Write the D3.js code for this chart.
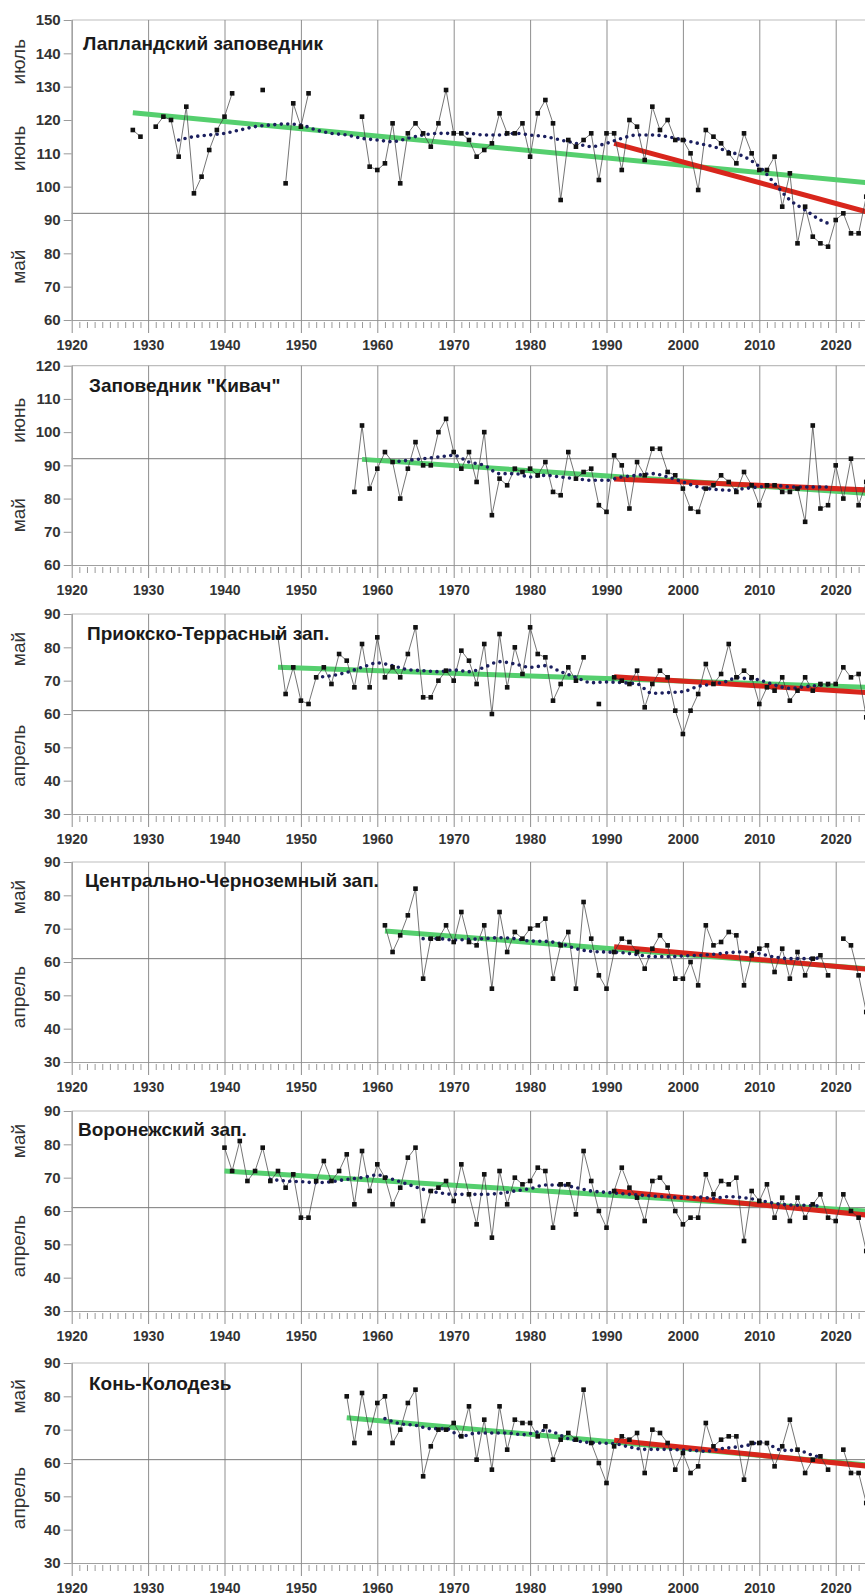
<!DOCTYPE html>
<html lang="ru"><head><meta charset="utf-8">
<script src="https://cdn.jsdelivr.net/npm/d3@7/dist/d3.min.js"></script>
<style>
html,body{margin:0;padding:0;background:#fff;}
svg{display:block;font-family:"Liberation Sans",Arial,Helvetica,sans-serif;}
</style></head><body>
<svg id="chart" width="865" height="1595"></svg>
<script>
// ---------- tick labels ----------
const decadeTicks=[1920,1930,1940,1950,1960,1970,1980,1990,2000,2010,2020];
const yTicksLap=[60,70,80,90,100,110,120,130,140,150];
const yTicksKiv=[60,70,80,90,100,110,120];
const yTicksSouth=[30,40,50,60,70,80,90];

// ---------- Лапландский заповедник ----------
const lapYears=[1928,1929,1930,1931,1932,1933,1934,1935,1936,1937,1938,1939,1940,1941,1942,1945,1946,1948,1949,1950,1951,1952,
1958,1959,1960,1961,1962,1963,1964,1965,1966,1967,1968,1969,1970,1971,1972,1973,1974,1975,1976,1977,1978,1979,1980,1981,1982,1983,1984,1985,1986,1987,1988,1989,1990,1991,1992,1993,1994,1995,1996,1997,1998,1999,2000,2001,2002,2003,2004,2005,2006,2007,2008,2009,2010,2011,2012,2013,2014,2015,2016,2017,2018,2019,2020,2021,2022,2023,2024];
const lapDays=[117,115,null,118,121,120,109,124,98,103,111,117,121,128,null,129,null,101,125,118,128,null,
121,106,105,107,119,101,116,119,116,112,119,129,116,116,114,109,111,113,122,116,116,119,109,122,126,119,96,114,112,114,116,102,116,116,105,120,118,108,124,117,120,114,114,110,99,117,115,113,110,107,116,110,105,105,109,94,104,83,94,85,83,82,90,92,86,86,97];
const lapMaYears=[1934,1936,1938,1940,1942,1944,1946,1948,1950,1952,1954,1956,1958,1960,1962,1964,1966,1968,1970,1972,1974,1976,1978,1980,1982,1984,1986,1988,1990,1992,1994,1996,1998,2000,2002,2004,2006,2008,2010,2012,2014,2016,2018,2019];
const lapMa=[114,115,115.5,116,117,118,118.5,118.8,118.5,117,116,115.5,114.5,114,113.5,114.5,115.5,116,116,116,115.5,115.5,116,115.5,115,114,113,112,113,114.5,115.5,115.5,115,114,113,112,110.5,109,106,101,96,93,90,89];
const lapTrendYears=[1928,2024], lapTrend=[122.2,101.2];
const lapRecentYears=[1991,2024], lapRecent=[113,92.5];
const lapMonths=["июль","июнь","май"];

// ---------- Заповедник "Кивач" ----------
const kivYears=[1957,1958,1959,1960,1961,1962,1963,1964,1965,1966,1967,1968,1969,1970,1971,1972,1973,1974,1975,1976,1977,1978,1979,1980,1981,1982,1983,1984,1985,1986,1987,1988,1989,1990,1991,1992,1993,1994,1995,1996,1997,1998,1999,2000,2001,2002,2003,2004,2005,2006,2007,2008,2009,2010,2011,2012,2013,2014,2015,2016,2017,2018,2019,2020,2021,2022,2023,2024];
const kivDays=[82,102,83,89,94,91,80,89,97,90,90,100,104,94,89,94,85,100,75,86,84,89,88,89,87,91,82,81,94,86,88,89,78,76,93,90,77,91,87,95,95,88,87,83,77,76,83,84,87,85,82,88,84,78,84,84,82,82,83,73,102,77,78,90,80,92,78,85];
const kivMaYears=[1962,1964,1966,1968,1970,1972,1974,1976,1978,1980,1982,1984,1986,1988,1990,1992,1994,1996,1998,2000,2002,2004,2006,2008,2010,2012,2014,2016,2018,2019];
const kivMa=[91,91.5,92,92.5,93,91,90,87.5,87.5,86.5,87,86.5,86,85.5,85.5,86.5,87,87.5,86.5,85,83.5,82.8,82.5,83,83.5,84,83.5,83.5,83.5,83.5];
const kivTrendYears=[1958,2024], kivTrend=[91.8,81.6];
const kivRecentYears=[1991,2024], kivRecent=[85.9,82.6];
const kivMonths=["июнь","май"];

// ---------- Приокско-Террасный зап. ----------
const priYears=[1947,1948,1949,1950,1951,1952,1953,1954,1955,1956,1957,1958,1959,1960,1961,1962,1963,1964,1965,1966,1967,1968,1969,1970,1971,1972,1973,1974,1975,1976,1977,1978,1979,1980,1981,1982,1983,1984,1985,1986,1987,1988,1989,1990,1991,1992,1993,1994,1995,1996,1997,1998,1999,2000,2001,2002,2003,2004,2005,2006,2007,2008,2009,2010,2011,2012,2013,2014,2015,2016,2017,2018,2019,2020,2021,2022,2023,2024];
const priDays=[83,66,74,64,63,71,74,69,78,76,68,81,68,83,71,74,71,78,86,65,65,70,73,70,79,76,69,81,60,84,68,80,72,86,78,77,64,69,74,70,77,null,63,null,71,70,69,73,62,69,73,71,61,54,61,66,75,69,72,81,71,73,71,63,68,67,71,64,67,71,67,69,69,69,74,71,72,59];
const priMaYears=[1952,1954,1956,1958,1960,1962,1964,1966,1968,1970,1972,1974,1976,1978,1980,1982,1984,1986,1988,1990,1992,1994,1996,1998,2000,2002,2004,2006,2007,2008,2010,2012,2014,2016,2018,2019];
const priMa=[71,71.5,72.5,74,75.3,74.5,73.3,73,72.7,73.2,72.7,74,75.7,75,74,74.5,72.7,71,69.4,69.6,69.4,69,66.2,66.4,66.7,68.3,69,70,71,70.7,70.2,68.7,67.7,68.2,68.6,68.7];
const priTrendYears=[1947,2024], priTrend=[74,68];
const priRecentYears=[1991,2024], priRecent=[71.2,66.4];
const southMonths=["май","апрель"];

// ---------- Центрально-Черноземный зап. ----------
const cczYears=[1961,1962,1963,1964,1965,1966,1967,1968,1969,1970,1971,1972,1973,1974,1975,1976,1977,1978,1979,1980,1981,1982,1983,1984,1985,1986,1987,1988,1989,1990,1991,1992,1993,1994,1995,1996,1997,1998,1999,2000,2001,2002,2003,2004,2005,2006,2007,2008,2009,2010,2011,2012,2013,2014,2015,2016,2017,2018,2019,2020,2021,2022,2023,2024];
const cczDays=[71,63,68,74,82,55,67,67,71,66,75,66,65,71,52,75,63,69,67,70,71,73,55,65,69,52,78,67,56,52,63,67,66,63,58,64,68,65,55,55,60,53,71,65,66,69,68,53,62,64,65,57,64,55,63,56,61,62,56,null,67,65,56,45];
const cczMaYears=[1966,1968,1970,1972,1974,1976,1978,1980,1982,1984,1986,1988,1990,1992,1994,1996,1998,2000,2002,2004,2006,2008,2010,2012,2014,2016,2018];
const cczMa=[67,67,66.6,66.8,67,67.3,67,66.3,66.2,65.5,64,63.2,63,62.8,62.2,61.6,61.6,61.8,62,62.3,62.8,63,62.5,61.5,61,61,61.2];
const cczTrendYears=[1961,2024], cczTrend=[69.3,58];
const cczRecentYears=[1991,2024], cczRecent=[64.6,57.9];

// ---------- Воронежский зап. ----------
const vorYears=[1940,1941,1942,1943,1944,1945,1946,1947,1948,1949,1950,1951,1952,1953,1954,1955,1956,1957,1958,1959,1960,1961,1962,1963,1964,1965,1966,1967,1968,1969,1970,1971,1972,1973,1974,1975,1976,1977,1978,1979,1980,1981,1982,1983,1984,1985,1986,1987,1988,1989,1990,1991,1992,1993,1994,1995,1996,1997,1998,1999,2000,2001,2002,2003,2004,2005,2006,2007,2008,2009,2010,2011,2012,2013,2014,2015,2016,2017,2018,2019,2020,2021,2022,2023,2024];
const vorDays=[79,72,81,69,72,79,69,72,67,71,58,58,69,75,69,72,77,62,78,66,74,70,62,67,76,79,57,66,67,69,63,74,65,56,71,52,72,62,70,68,69,73,72,55,68,68,59,78,69,60,55,66,73,67,64,57,69,70,67,60,56,58,58,71,65,69,68,70,51,66,63,68,58,64,57,64,58,62,65,58,57,65,60,58,48];
const vorMaYears=[1946,1948,1950,1952,1954,1956,1958,1960,1962,1964,1966,1968,1970,1972,1974,1976,1978,1980,1982,1984,1986,1988,1990,1992,1994,1996,1998,2000,2002,2004,2006,2008,2010,2012,2014,2016,2018];
const vorMa=[69.5,69,68.8,68.5,68.8,69.5,70,70.8,69.5,68,66.5,65.5,65,65,65,65.3,66,66.7,67.8,67.8,67,66,65.6,65.2,64.8,64.5,64.2,64,64.2,63.8,64.3,64,63.2,62.3,61.8,61.7,61.5];
const vorTrendYears=[1940,2024], vorTrend=[72,60];
const vorRecentYears=[1991,2024], vorRecent=[66,58.8];

// ---------- Конь-Колодезь ----------
const konYears=[1956,1957,1958,1959,1960,1961,1962,1963,1964,1965,1966,1967,1968,1969,1970,1971,1972,1973,1974,1975,1976,1977,1978,1979,1980,1981,1982,1983,1984,1985,1986,1987,1988,1989,1990,1991,1992,1993,1994,1995,1996,1997,1998,1999,2000,2001,2002,2003,2004,2005,2006,2007,2008,2009,2010,2011,2012,2013,2014,2015,2016,2017,2018,2019,2020,2021,2022,2023,2024];
const konDays=[80,66,81,69,78,80,66,70,78,82,56,65,70,70,72,68,77,61,73,58,77,64,73,72,72,68,71,61,67,69,67,82,66,60,54,65,68,67,69,57,70,69,66,58,63,57,59,72,65,67,68,68,55,66,66,66,59,65,73,64,57,61,62,58,null,64,57,57,48];
const konMaYears=[1961,1963,1965,1967,1969,1971,1973,1975,1977,1979,1981,1982,1983,1985,1987,1989,1991,1993,1995,1997,1999,2001,2003,2005,2007,2009,2010,2011,2013,2015,2017,2018];
const konMa=[73.3,71.8,71.3,70.3,70.3,68,69,69,69,68.5,69.3,69.8,69.3,67.3,66.3,66,65.8,64.8,64.1,64.1,64,63.8,63.5,64.3,64.8,65.6,66.3,65.8,63.8,63.8,62.3,61.8];
const konTrendYears=[1956,2024], konTrend=[73.6,59.4];
const konRecentYears=[1991,2024], konRecent=[66.8,59.1];

// ---------- layout (positions / styles only) ----------
const panels=[
 {title:"Лапландский заповедник",years:lapYears,days:lapDays,maYears:lapMaYears,ma:lapMa,tY:lapTrendYears,t:lapTrend,rY:lapRecentYears,r:lapRecent,ticks:yTicksLap,boundary:92,months:lapMonths,monthAt:[137.5,111.5,76],top:20,bottom:320,titleX:83,titleDy:30},
 {title:"Заповедник \"Кивач\"",years:kivYears,days:kivDays,maYears:kivMaYears,ma:kivMa,tY:kivTrendYears,t:kivTrend,rY:kivRecentYears,r:kivRecent,ticks:yTicksKiv,boundary:92,months:kivMonths,monthAt:[103.6,75],top:365.7,bottom:565,titleX:89,titleDy:26},
 {title:"Приокско-Террасный зап.",years:priYears,days:priDays,maYears:priMaYears,ma:priMa,tY:priTrendYears,t:priTrend,rY:priRecentYears,r:priRecent,ticks:yTicksSouth,boundary:61,months:southMonths,monthAt:[79.5,47.5],top:614,bottom:814,titleX:87,titleDy:26},
 {title:"Центрально-Черноземный зап.",years:cczYears,days:cczDays,maYears:cczMaYears,ma:cczMa,tY:cczTrendYears,t:cczTrend,rY:cczRecentYears,r:cczRecent,ticks:yTicksSouth,boundary:61,months:southMonths,monthAt:[79.5,49.5],top:862,bottom:1062,titleX:85,titleDy:25},
 {title:"Воронежский зап.",years:vorYears,days:vorDays,maYears:vorMaYears,ma:vorMa,tY:vorTrendYears,t:vorTrend,rY:vorRecentYears,r:vorRecent,ticks:yTicksSouth,boundary:61,months:southMonths,monthAt:[81,49.5],top:1111,bottom:1311,titleX:78,titleDy:25},
 {title:"Конь-Колодезь",years:konYears,days:konDays,maYears:konMaYears,ma:konMa,tY:konTrendYears,t:konTrend,rY:konRecentYears,r:konRecent,ticks:yTicksSouth,boundary:61,months:southMonths,monthAt:[80,49.5],top:1363,bottom:1563,titleX:89,titleDy:27}
];

const W=865;
const svg=d3.select("#chart");
const x=d3.scaleLinear().domain([1920,2025]).range([71.7,873.9]);
const minorYears=d3.range(1921,2026).filter(v=>v%10!==0);
const zip=(a,b)=>a.map((v,i)=>[v,b[i]]);

panels.forEach(p=>{
  const yMin=d3.min(p.ticks), yMax=d3.max(p.ticks);
  const y=d3.scaleLinear().domain([yMin,yMax]).range([p.bottom,p.top]);
  const g=svg.append("g");
  const x0=x(1920);

  // top frame
  g.append("line").attr("x1",x0).attr("x2",W).attr("y1",y(yMax)).attr("y2",y(yMax))
    .attr("stroke","#bdbdbd").attr("stroke-width",1.2);

  // vertical decade grid
  g.append("g").attr("transform",`translate(0,${p.bottom})`)
    .call(d3.axisBottom(x).tickValues(decadeTicks).tickSizeInner(-(p.bottom-p.top)).tickSizeOuter(0).tickFormat(""))
    .call(a=>{a.select(".domain").remove();a.selectAll("line").attr("stroke","#8f8f8f").attr("stroke-width",1);});

  // month boundary
  g.append("line").attr("x1",x0).attr("x2",W).attr("y1",y(p.boundary)).attr("y2",y(p.boundary))
    .attr("stroke","#7a7a7a").attr("stroke-width",1);

  // minor ticks
  g.append("g").attr("transform",`translate(0,${p.bottom+2})`)
    .call(d3.axisBottom(x).tickValues(minorYears).tickSize(6).tickFormat(""))
    .call(a=>{a.select(".domain").remove();a.selectAll("line").attr("stroke","#9a9a9a");});

  // bottom axis
  g.append("g").attr("transform",`translate(0,${p.bottom})`)
    .call(d3.axisBottom(x).tickValues(decadeTicks).tickSizeInner(13).tickSizeOuter(0).tickPadding(7).tickFormat(d3.format("d")))
    .call(a=>{
      a.select(".domain").attr("stroke","#a0a0a0").attr("stroke-width",1.2);
      a.selectAll("line").attr("stroke","#8f8f8f");
      a.selectAll("text").attr("fill","#333").attr("font-size",14).attr("font-weight","bold")
        .attr("font-family","'Liberation Sans',Arial,sans-serif");
    });

  // left axis
  g.append("g").attr("transform",`translate(${x0},0)`)
    .call(d3.axisLeft(y).tickValues(p.ticks).tickSizeInner(8).tickSizeOuter(0).tickPadding(3).tickFormat(d3.format("d")))
    .call(a=>{
      a.select(".domain").attr("stroke","#a0a0a0").attr("stroke-width",1.2);
      a.selectAll("line").attr("stroke","#9a9a9a");
      a.selectAll("text").attr("fill","#333").attr("font-size",15).attr("font-weight","bold")
        .attr("font-family","'Liberation Sans',Arial,sans-serif");
    });

  // month labels
  p.months.forEach((m,i)=>{
    g.append("text").attr("transform",`translate(25,${y(p.monthAt[i])}) rotate(-90)`)
      .attr("text-anchor","middle").attr("font-size",19).attr("fill","#333").text(m);
  });

  // title
  g.append("text").attr("x",p.titleX).attr("y",p.top+p.titleDy)
    .attr("font-size",19).attr("font-weight","bold").attr("fill","#1a1a1a").text(p.title);

  const line=d3.line().defined(d=>d[1]!=null).x(d=>x(d[0])).y(d=>y(d[1]));

  // trends
  g.append("path").datum(zip(p.tY,p.t)).attr("d",line)
    .attr("fill","none").attr("stroke","#55cf6e").attr("stroke-width",5);
  g.append("path").datum(zip(p.rY,p.r)).attr("d",line)
    .attr("fill","none").attr("stroke","#d8261c").attr("stroke-width",5);

  // observed series line
  const pts=zip(p.years,p.days);
  g.append("path").datum(pts).attr("d",line)
    .attr("fill","none").attr("stroke","#3a3a3a").attr("stroke-width",0.7);

  // moving average (dotted)
  g.append("path").datum(zip(p.maYears,p.ma)).attr("d",d3.line().curve(d3.curveMonotoneX).x(d=>x(d[0])).y(d=>y(d[1])))
    .attr("fill","none").attr("stroke","#1b1f5e").attr("stroke-width",3.6)
    .attr("stroke-linecap","round").attr("stroke-dasharray","0,6.5");

  // markers
  g.append("g").selectAll("rect").data(pts.filter(d=>d[1]!=null)).join("rect")
    .attr("x",d=>x(d[0])-2.3).attr("y",d=>y(d[1])-2.3).attr("width",4.6).attr("height",4.6)
    .attr("fill","#111");
});
</script>
</body></html>
